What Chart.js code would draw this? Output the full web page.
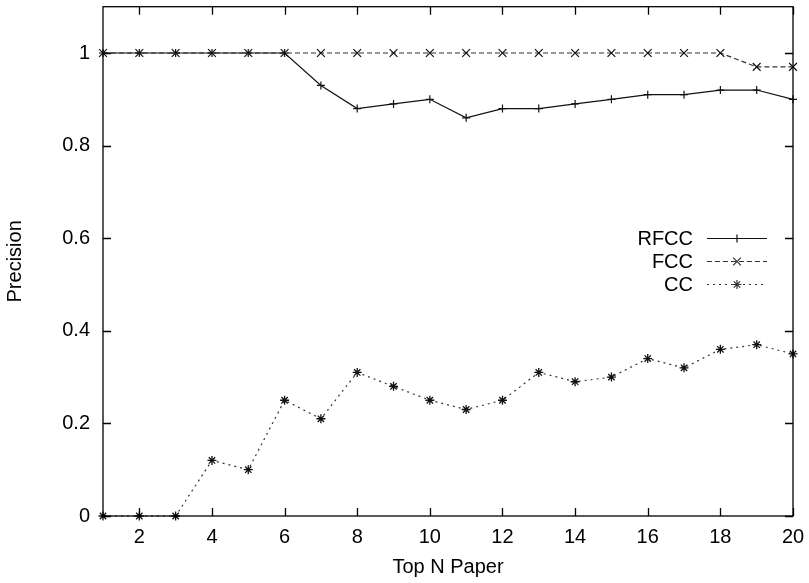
<!DOCTYPE html>
<html>
<head>
<meta charset="utf-8">
<script src="https://cdn.jsdelivr.net/npm/chart.js@4"></script>
<style>
  html, body { margin: 0; padding: 0; background: #fff; }
  #wrap { width: 809px; height: 583px; }
</style>
</head>
<body>
<div id="wrap"><canvas id="chart" width="809" height="583"></canvas></div>
<script>
// x = Top N
const topN = [1, 2, 3, 4, 5, 6, 7, 8, 9, 10, 11, 12, 13, 14, 15, 16, 17, 18, 19, 20];
const rfcc = [1, 1, 1, 1, 1, 1, 0.93, 0.88, 0.89, 0.90, 0.86, 0.88, 0.88, 0.89, 0.90, 0.91, 0.91, 0.92, 0.92, 0.90];
const fcc = [1, 1, 1, 1, 1, 1, 1, 1, 1, 1, 1, 1, 1, 1, 1, 1, 1, 1, 0.97, 0.97];
const cc = [0, 0, 0, 0.12, 0.10, 0.25, 0.21, 0.31, 0.28, 0.25, 0.23, 0.25, 0.31, 0.29, 0.30, 0.34, 0.32, 0.36, 0.37, 0.35];

const xTicks = [2, 4, 6, 8, 10, 12, 14, 16, 18, 20];
const yTicks = [0, 0.2, 0.4, 0.6, 0.8, 1];
const yTickLabels = ['0', '0.2', '0.4', '0.6', '0.8', '1'];

const FONT = 'Liberation Sans, Arial, Helvetica, sans-serif';

function toPoints(ys) {
    return topN.map((x, i) => ({ x: x, y: ys[i] }));
}

// frame + inward tick marks on all four sides, like gnuplot
const framePlugin = {
    id: 'frame',
    afterDraw(chart) {
        const ctx = chart.ctx;
        const a = chart.chartArea;
        const xs = chart.scales.x;
        const ys = chart.scales.y;
        const len = 8;
        ctx.save();
        ctx.strokeStyle = '#000';
        ctx.lineWidth = 1.3;
        ctx.strokeRect(a.left, a.top, a.right - a.left, a.bottom - a.top);
        ctx.beginPath();
        xTicks.forEach(v => {
            const px = Math.round(xs.getPixelForValue(v)) + 0.5;
            ctx.moveTo(px, a.bottom);
            ctx.lineTo(px, a.bottom - len);
            ctx.moveTo(px, a.top);
            ctx.lineTo(px, a.top + len);
        });
        yTicks.forEach(v => {
            const py = Math.round(ys.getPixelForValue(v)) + 0.5;
            ctx.moveTo(a.left, py);
            ctx.lineTo(a.left + len, py);
            ctx.moveTo(a.right, py);
            ctx.lineTo(a.right - len, py);
        });
        ctx.stroke();
        ctx.restore();
    }
};

// key drawn inside the plot: label right-aligned, sample line on its right
const keyPlugin = {
    id: 'key',
    afterDatasetsDraw(chart) {
        const ctx = chart.ctx;
        const textRight = 693;
        const lineL = 707, lineR = 767;
        const rowY = [238, 261, 284];
        ctx.save();
        ctx.font = '20px ' + FONT;
        ctx.textAlign = 'right';
        ctx.textBaseline = 'middle';
        chart.data.datasets.forEach((ds, i) => {
            const y = rowY[i];
            ctx.fillStyle = '#000';
            ctx.fillText(ds.label, textRight, y + 1);
            ctx.strokeStyle = ds.borderColor;
            ctx.lineWidth = ds.borderWidth;
            ctx.setLineDash(ds.borderDash || []);
            ctx.beginPath();
            ctx.moveTo(lineL, y + 0.5);
            ctx.lineTo(lineR, y + 0.5);
            ctx.stroke();
            ctx.setLineDash([]);
            Chart.helpers.drawPoint(ctx, {
                pointStyle: ds.pointStyle,
                radius: ds.pointRadius,
                borderWidth: 1
            }, (lineL + lineR) / 2, y + 0.5);
        });
        ctx.restore();
    }
};

const ctx = document.getElementById('chart').getContext('2d');

new Chart(ctx, {
    type: 'line',
    data: {
        datasets: [
            {
                label: 'RFCC',
                data: toPoints(rfcc),
                borderColor: '#111',
                backgroundColor: '#111',
                borderWidth: 1.2,
                pointStyle: 'cross',
                pointRadius: 4,
                pointBorderWidth: 1.2,
                pointBorderColor: '#111',
                clip: false
            },
            {
                label: 'FCC',
                data: toPoints(fcc),
                borderColor: '#333',
                backgroundColor: '#333',
                borderWidth: 1.2,
                borderDash: [5, 3],
                pointStyle: 'crossRot',
                pointRadius: 5.5,
                pointBorderWidth: 1.2,
                pointBorderColor: '#111',
                clip: false
            },
            {
                label: 'CC',
                data: toPoints(cc),
                borderColor: '#333',
                backgroundColor: '#333',
                borderWidth: 1.2,
                borderDash: [2, 4],
                pointStyle: 'star',
                pointRadius: 4.5,
                pointBorderWidth: 1.3,
                pointBorderColor: '#111',
                clip: false
            }
        ]
    },
    options: {
        responsive: false,
        animation: false,
        devicePixelRatio: 1,
        layout: { padding: { left: 0, right: 16, top: 6, bottom: 0 } },
        plugins: {
            legend: { display: false },
            tooltip: { enabled: false }
        },
        scales: {
            x: {
                type: 'linear',
                min: 1,
                max: 20,
                afterBuildTicks(axis) {
                    axis.ticks = xTicks.map(v => ({ value: v }));
                },
                afterFit(axis) {
                    axis.height = 67;
                    axis.paddingLeft = 0;
                    axis.paddingRight = 0;
                },
                grid: { display: false, drawTicks: false },
                border: { display: false },
                ticks: {
                    color: '#000',
                    font: { family: FONT, size: 20 },
                    padding: 9,
                    maxRotation: 0,
                    autoSkip: false
                },
                title: {
                    display: true,
                    text: 'Top N Paper',
                    color: '#000',
                    font: { family: FONT, size: 20 },
                    padding: { top: 0, bottom: 4 }
                }
            },
            y: {
                type: 'linear',
                min: 0,
                max: 1.1,
                afterBuildTicks(axis) {
                    axis.ticks = yTicks.map(v => ({ value: v }));
                },
                afterFit(axis) {
                    axis.width = 103;
                    axis.paddingTop = 0;
                    axis.paddingBottom = 0;
                },
                grid: { display: false, drawTicks: false },
                border: { display: false },
                ticks: {
                    color: '#000',
                    font: { family: FONT, size: 20 },
                    padding: 13,
                    callback: (v) => yTickLabels[yTicks.indexOf(v)]
                },
                title: {
                    display: true,
                    text: 'Precision',
                    color: '#000',
                    font: { family: FONT, size: 20 },
                    padding: { top: 3, bottom: 0 }
                }
            }
        }
    },
    plugins: [framePlugin, keyPlugin]
});
</script>
</body>
</html>
